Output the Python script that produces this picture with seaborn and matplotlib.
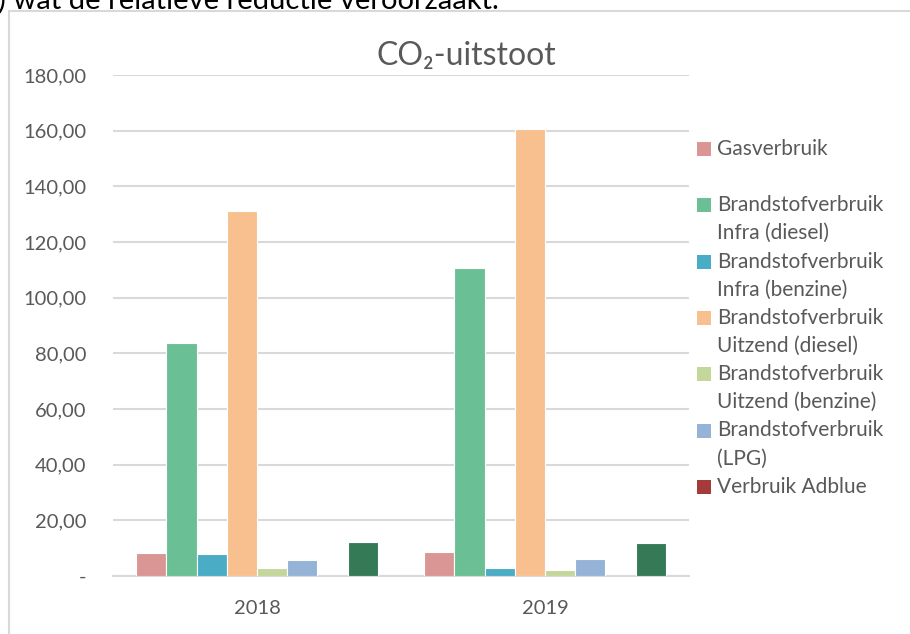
import pandas as pd
import seaborn as sns
import matplotlib.pyplot as plt
from matplotlib.patches import Rectangle
from matplotlib.ticker import FuncFormatter, MultipleLocator

# data
jaren = ["2018", "2019"]
reeksen = [
    "Gasverbruik",
    "Brandstofverbruik Infra (diesel)",
    "Brandstofverbruik Infra (benzine)",
    "Brandstofverbruik Uitzend (diesel)",
    "Brandstofverbruik Uitzend (benzine)",
    "Brandstofverbruik (LPG)",
    "Verbruik Adblue",
    "Overig",  # entry cut off from the legend in the source
]
waarden_2018 = [8.3, 83.8, 7.9, 131.3, 3.0, 5.6, 0.0, 12.3]
waarden_2019 = [8.5, 110.8, 3.0, 160.7, 2.2, 6.0, 0.0, 12.0]
kleuren = ["#D99694", "#6BBF94", "#4BACC6", "#F9C08F",
           "#C4D79B", "#95B3D7", "#A33B38", "#357A57"]
legenda = [
    ["Gasverbruik"],
    ["Brandstofverbruik", "Infra (diesel)"],
    ["Brandstofverbruik", "Infra (benzine)"],
    ["Brandstofverbruik", "Uitzend (diesel)"],
    ["Brandstofverbruik", "Uitzend (benzine)"],
    ["Brandstofverbruik", "(LPG)"],
    ["Verbruik Adblue"],
]

rows = []
for jaar, waarden in zip(jaren, [waarden_2018, waarden_2019]):
    for r, v in zip(reeksen, waarden):
        rows.append({"jaar": jaar, "reeks": r, "waarde": v})
df = pd.DataFrame(rows)

sns.set_style("white")
plt.rcParams["font.family"] = ["Lato", "DejaVu Sans"]
grijs = "#595959"
lijn = "#D9D9D9"

W, H = 910, 634
fig = plt.figure(figsize=(W / 100, H / 100), dpi=100)
ax = fig.add_axes([113 / W, 1 - 576 / H, 576 / W, (576 - 75) / H])

sns.barplot(data=df, x="jaar", y="waarde", hue="reeks", hue_order=reeksen,
            palette=kleuren, saturation=1, width=0.84, edgecolor="white",
            linewidth=0.8, legend=False, ax=ax)

ax.set_ylim(0, 180)
ax.yaxis.set_major_locator(MultipleLocator(20))
ax.yaxis.set_major_formatter(FuncFormatter(
    lambda v, p: "-" if v == 0 else f"{v:.2f}".replace(".", ",")))
ax.grid(axis="y", color=lijn, linewidth=1.5)
ax.set_axisbelow(True)
for s in ["top", "right", "left"]:
    ax.spines[s].set_visible(False)
ax.spines["bottom"].set_color(lijn)
ax.spines["bottom"].set_linewidth(1.5)
ax.spines["bottom"].set_zorder(0.5)
ax.tick_params(axis="y", length=0, pad=19, labelsize=14.5, labelcolor=grijs)
ax.tick_params(axis="x", length=0, pad=17, labelsize=14.5, labelcolor=grijs)
ax.set_xlabel("")
ax.set_ylabel("")

fig.text(466 / W, 1 - 56 / H, "CO₂-uitstoot", ha="center", va="center",
         fontsize=23, color=grijs)

# chart border (partly outside the crop)
fig.patches.append(Rectangle((9 / W, -0.1), 1.2, 1 - 11 / H + 0.1,
                             transform=fig.transFigure, fill=False,
                             edgecolor=lijn, linewidth=1.5))

# clipped line of document text above the chart
fig.text(-2 / W, 1 - 9 / H, ") wat de relatieve reductie veroorzaakt.",
         ha="left", va="baseline", fontsize=21, color="black")

# legend, drawn entry by entry
y_start, stap, regel = 149, 56.3, 28
for i, (regels, kleur) in enumerate(zip(legenda, kleuren)):
    y = y_start + i * stap
    fig.patches.append(Rectangle((697 / W, 1 - (y + 7) / H), 14 / W, 14 / H,
                                 transform=fig.transFigure, facecolor=kleur,
                                 edgecolor="none"))
    for j, t in enumerate(regels):
        fig.text(717 / W, 1 - (y + j * regel) / H, t, ha="left",
                 va="center", fontsize=15, color=grijs)

fig.savefig("out.png", dpi=100)
